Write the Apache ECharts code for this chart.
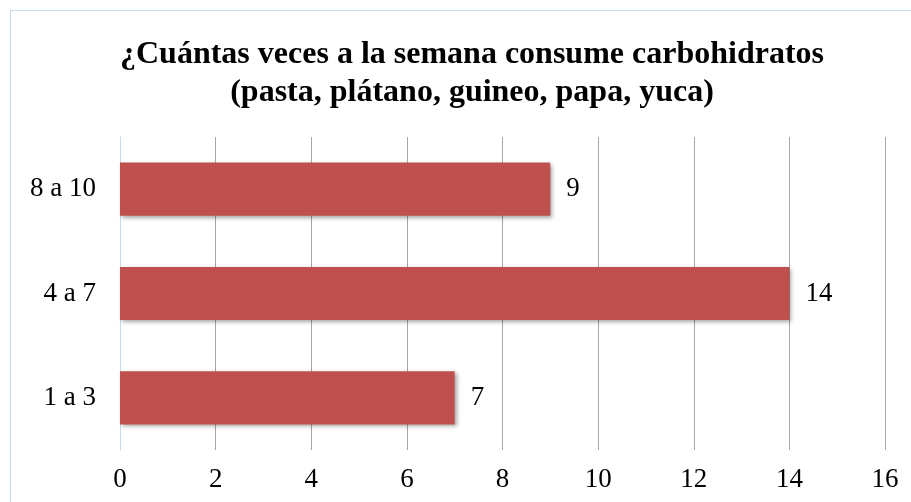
<!DOCTYPE html>
<html>
<head>
<meta charset="utf-8">
<script src="https://cdn.jsdelivr.net/npm/echarts@6/dist/echarts.min.js"></script>
<style>
  html, body { margin: 0; padding: 0; background: #fff; }
  #chart { width: 911px; height: 502px; }
</style>
</head>
<body>
<div id="chart"></div>
<script>
// datos
const categories = ['1 a 3', '4 a 7', '8 a 10']
const values = [7, 14, 9]
const titleLines = ['¿Cuántas veces a la semana consume carbohidratos', '(pasta, plátano, guineo, papa, yuca)']

const chart = echarts.init(document.getElementById('chart'))
const serif = '"Liberation Serif", "Times New Roman", serif'

const option = {
  animation: false,
  title: {
    text: titleLines.join('\n'),
    left: 467,
    top: 31,
    textAlign: 'center',
    textStyle: {
      fontFamily: serif,
      fontSize: 32,
      fontWeight: 'bold',
      color: '#000',
      lineHeight: 38
    }
  },
  graphic: [{
    type: 'rect',
    shape: { x: 10.5, y: 10.5, width: 920, height: 520 },
    style: { fill: 'none', stroke: '#c6d9f1', lineWidth: 1 },
    silent: true
  }],
  grid: {
    left: 120,
    right: 26,
    top: 137,
    bottom: 52
  },
  xAxis: {
    type: 'value',
    min: 0,
    max: 16,
    interval: 2,
    axisLine: { show: false },
    axisTick: { show: false },
    axisLabel: {
      fontFamily: serif,
      fontSize: 27,
      color: '#000',
      margin: 16
    },
    splitLine: {
      lineStyle: { color: '#a6a6a6', width: 1 }
    }
  },
  yAxis: {
    type: 'category',
    data: categories,
    axisLine: { show: true, lineStyle: { color: '#c6d9f1', width: 1 } },
    axisTick: { show: false },
    axisLabel: {
      fontFamily: serif,
      fontSize: 27,
      color: '#000',
      margin: 24
    }
  },
  series: [{
    type: 'bar',
    data: values,
    barWidth: '51%',
    itemStyle: {
      color: '#c0504d',
      shadowColor: 'rgba(0,0,0,0.35)',
      shadowBlur: 4,
      shadowOffsetX: 2,
      shadowOffsetY: 2
    },
    label: {
      show: true,
      position: 'right',
      distance: 16,
      fontFamily: serif,
      fontSize: 27,
      color: '#000'
    }
  }]
}

chart.setOption(option)
</script>
</body>
</html>
